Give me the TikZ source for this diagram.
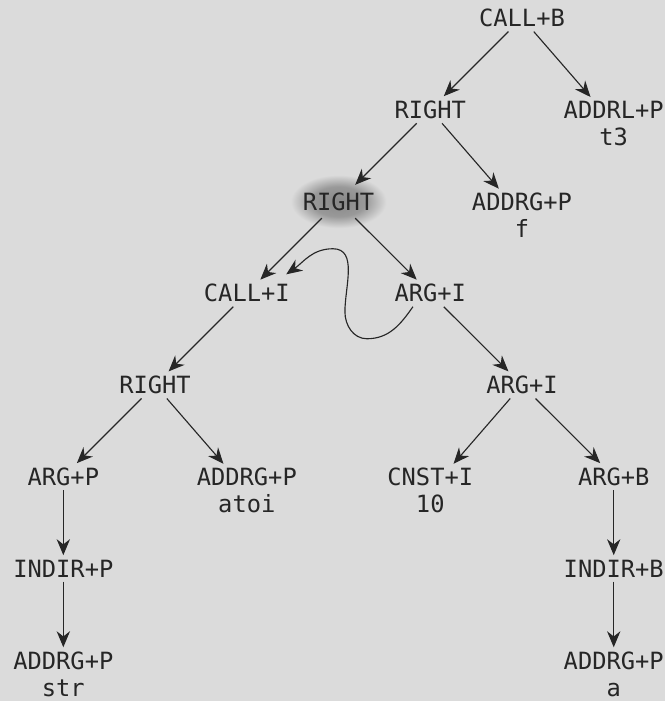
\documentclass[tikz,border=0pt]{standalone}
\usepackage{fontspec}
\setmonofont{DejaVu Sans Mono}
\usepackage{tikz}
\usetikzlibrary{arrows.meta,positioning}

\definecolor{paper}{gray}{0.86}
\definecolor{ink}{gray}{0.15}
\pgfdeclareradialshading{blob}{\pgfpoint{0bp}{0bp}}{color(0bp)=(black!47); color(14bp)=(black!40); color(25bp)=(paper); color(50bp)=(paper)}

\tikzset{
  op/.style={inner sep=3pt, text=ink, font=\fontsize{17.8}{20}\selectfont\ttfamily},
  leaf/.style={op, align=center, yshift=-10.5pt},
  hot/.style={op, minimum width=72pt, minimum height=40pt, outer sep=-7.5pt, shade, shading=blob}
}

\begin{document}
\begin{tikzpicture}[->, >={Stealth[length=12pt,width=10pt]}, color=ink, line width=0.85pt,
    node distance=68.8pt and 68.8pt, on grid]
  \fill[paper,-] (-391.5pt,13.5pt) rectangle (107.25pt,-512.25pt);
  \useasboundingbox (-391.5pt,13.5pt) rectangle (107.25pt,-512.25pt);

  \node[op]   (CB)                      {CALL+B};
  \node[op]   (R1)  [below left=of CB]  {RIGHT};
  \node[leaf] (AL)  [below right=of CB] {ADDRL+P\\t3};
  \node[hot]  (R2)  [below left=of R1]  {RIGHT};
  \node[leaf] (AF)  [below right=of R1] {ADDRG+P\\f};
  \node[op]   (CI)  [below left=of R2]  {CALL+I};
  \node[op]   (AI1) [below right=of R2] {ARG+I};
  \node[op]   (R3)  [below left=of CI]  {RIGHT};
  \node[op]   (AI2) [below right=of AI1] {ARG+I};
  \node[op]   (AP)  [below left=of R3]  {ARG+P};
  \node[leaf] (AT)  [below right=of R3] {ADDRG+P\\atoi};
  \node[leaf] (CN)  [below left=of AI2] {CNST+I\\10};
  \node[op]   (AB)  [below right=of AI2] {ARG+B};
  \node[op]   (IP)  [below=of AP]       {INDIR+P};
  \node[op]   (IB)  [below=of AB]       {INDIR+B};
  \node[leaf] (AS)  [below=of IP]       {ADDRG+P\\str};
  \node[leaf] (AA)  [below=of IB]       {ADDRG+P\\a};

  \path (CB)  edge (R1) edge (AL)
        (R1)  edge (R2) edge (AF)
        (R2)  edge (CI) edge (AI1)
        (CI)  edge (R3)
        (AI1) edge (AI2)
        (R3)  edge (AP) edge (AT)
        (AI2) edge (CN) edge (AB)
        (AP)  edge (IP)
        (IP)  edge (AS)
        (AB)  edge (IB)
        (IB)  edge (AA);

  \draw ([xshift=-13pt]AI1.south) to[out=-125,in=0] ++(-34.5pt,-24pt)
        to[out=180,in=-90] ++(-16.5pt,20.25pt)
        to[out=90,in=0] ++(-9pt,47.25pt)
        to[out=180,in=35] ([shift={(-6pt,4pt)}]CI.north east);
\end{tikzpicture}
\end{document}
